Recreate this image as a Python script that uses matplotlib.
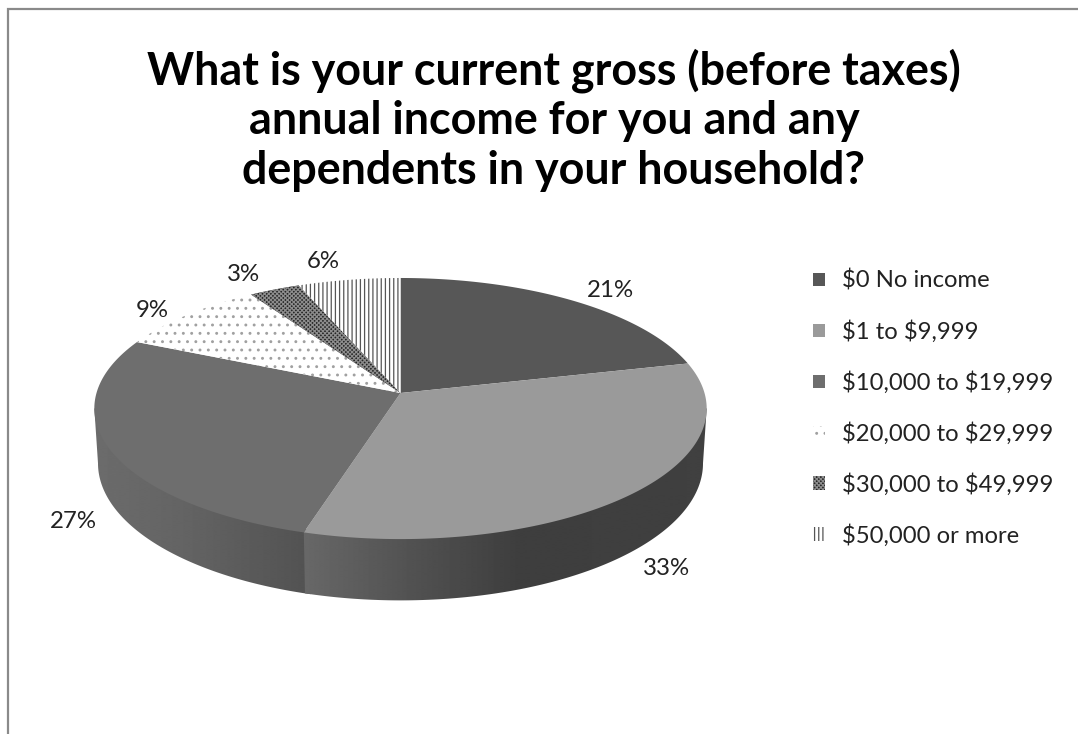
import numpy as np
import matplotlib
matplotlib.use("Agg")
import matplotlib.pyplot as plt
from matplotlib.patches import Polygon, Patch

# Survey results
categories = [r"\$0 No income", r"\$1 to \$9,999", r"\$10,000 to \$19,999",
              r"\$20,000 to \$29,999", r"\$30,000 to \$49,999", r"\$50,000 or more"]
percents = [21, 33, 27, 9, 3, 6]
title_lines = ["What is your current gross (before taxes)",
               "annual income for you and any",
               "dependents in your household?"]

# Slice styles: face colour, hatch colour, hatch
slice_faces = ["#575757", "#9a9a9a", "#6e6e6e", "#ffffff", "#262626", "#ffffff"]
slice_hatch_colors = ["none", "none", "none", "#a0a0a0", "#8c8c8c", "#555555"]
slice_hatches = [None, None, None, "..", "xxxxxxxx", "||||"]
label_nudges = [(38, -10), (36, 74), (-36, 72), (-35, -4), (-31, -15), (-26, -18)]

plt.rcParams["font.family"] = ["Lato", "DejaVu Sans"]
plt.rcParams["hatch.linewidth"] = 0.9

W, H = 1078, 734
fig = plt.figure(figsize=(W / 100, H / 100), dpi=100, facecolor="white")
ax = fig.add_axes([0, 0, 1, 1])

# Tilted pie projection, in pixels
CX, CY, A, B, K, DEPTH = 400.5, 393.0, 304.0, 128.7, 0.119, 54.0
# Rim angles where the pie's silhouette turns from front to back
RIGHT_TURN, LEFT_TURN = 96.8, 263.2


def project(theta_deg, r=1.0, drop=0.0):
    t = np.radians(theta_deg)
    X, Y = r * np.sin(t), r * np.cos(t)
    w = 1 + K * Y
    shrink = 1 - 0.012 * (drop > 0)
    return np.column_stack([CX + shrink * A * X / w, CY + (-B * Y + drop) / w])


def arc(a0, a1, r=1.0, drop=0.0):
    n = max(int(abs(a1 - a0)) * 2, 2)
    return project(np.linspace(a0, a1, n), r=r, drop=drop)


frac = np.array(percents, dtype=float)
edges = np.concatenate([[0], np.cumsum(frac / frac.sum() * 360)])

# Extruded rim, shaded left to right across each visible slice
side_ramps = {2: ([92, 190, 303], ["#6c6c6c", "#636363", "#535353"]),
              1: ([303, 420, 520, 710], ["#686868", "#505050", "#3e3e3e", "#404040"])}
gx = np.arange(85, 716)
for i, (px, grey) in side_ramps.items():
    a0, a1 = max(edges[i], RIGHT_TURN), min(edges[i + 1], LEFT_TURN)
    if i == 2:
        a0 -= 1.0  # runs under the neighbouring slice so no seam shows
    outline = np.vstack([project(a0), arc(a0, a1, r=0.98), project(a1),
                         arc(a1, a0, drop=DEPTH)])
    poly = Polygon(outline, closed=True, facecolor="none", edgecolor="none")
    ax.add_patch(poly)
    levels = [int(g[1:3], 16) for g in grey]
    ramp = np.interp(gx, px, levels)[None, :]
    im = ax.imshow(ramp, cmap="gray", vmin=0, vmax=255, aspect="auto",
                   extent=(gx[0], gx[-1], 610, 380), interpolation="bilinear", zorder=2)
    im.set_clip_path(poly)

# Top face of the pie
for i in range(len(percents)):
    pts = np.vstack([[[CX, CY]], arc(edges[i], edges[i + 1])])
    ax.add_patch(Polygon(pts, closed=True, facecolor=slice_faces[i],
                         edgecolor=slice_hatch_colors[i], hatch=slice_hatches[i],
                         linewidth=0, zorder=3))

# Percent labels placed from each slice's mid angle
mids = (edges[:-1] + edges[1:]) / 2
for pct, mid, (dx, dy) in zip(percents, mids, label_nudges):
    x, y = project(mid)[0]
    ax.text(x + dx, y + dy, f"{pct}%", fontsize=17.3, color="#222222",
            ha="center", va="center", zorder=5)

# Title
for line, y in zip(title_lines, [71, 121, 171]):
    ax.text(554, y, line, fontsize=32.3, fontweight="bold", color="black",
            ha="center", va="center")

# Chart frame
ax.plot([8, 8, W], [H, 9, 9], color="#8a8a8a", lw=1.6, solid_joinstyle="miter", zorder=6)

ax.set_xlim(0, W)
ax.set_ylim(H, 0)
ax.axis("off")

# Legend
handles = [Patch(facecolor=f, edgecolor=c, hatch=h, linewidth=0)
           for f, c, h in zip(slice_faces, slice_hatch_colors, slice_hatches)]
ax.legend(handles, categories, loc="upper left", bbox_to_anchor=(813 / W, 1 - 270 / H),
          frameon=False, fontsize=17.2, labelcolor="#222222", handlelength=0.51,
          handleheight=0.51, handletextpad=0.72, labelspacing=1.185,
          borderpad=0, borderaxespad=0)

fig.savefig("out.png", dpi=100)
